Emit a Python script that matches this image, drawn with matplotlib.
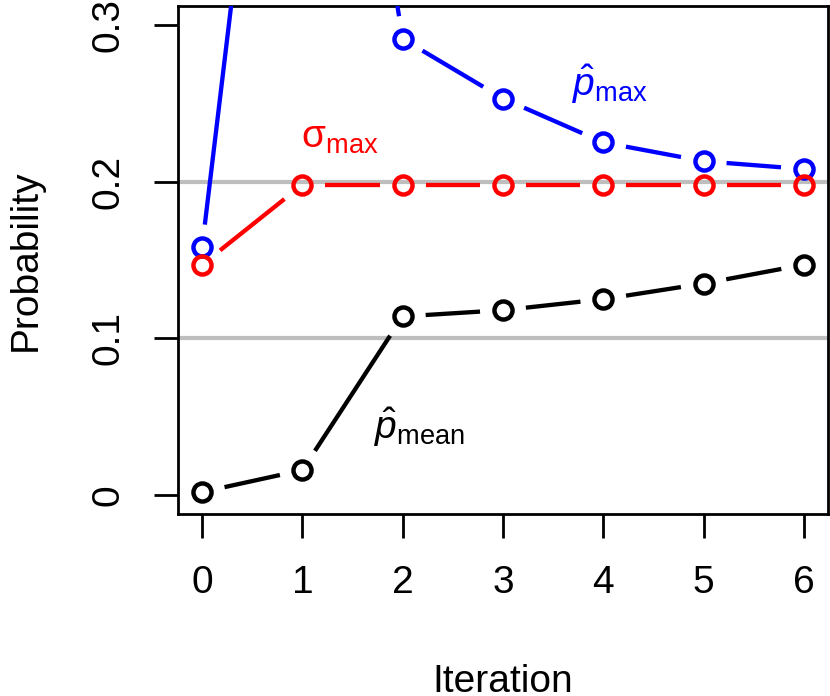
import numpy as np
import matplotlib
matplotlib.use("Agg")
import matplotlib.pyplot as plt

plt.rcParams['font.family'] = ['Liberation Sans', 'DejaVu Sans']
plt.rcParams['mathtext.fontset'] = 'custom'
plt.rcParams['mathtext.rm'] = 'Liberation Sans'
plt.rcParams['mathtext.it'] = 'Liberation Sans:italic'
plt.rcParams['mathtext.sf'] = 'Liberation Sans'

iterations = [0, 1, 2, 3, 4, 5, 6]
p_mean = [0.002, 0.016, 0.114, 0.118, 0.125, 0.135, 0.147]
sigma_max = [0.147, 0.198, 0.198, 0.198, 0.198, 0.198, 0.198]
p_max = [0.158, 0.69, 0.291, 0.253, 0.225, 0.213, 0.208]
ref_lines = [0.1, 0.2]
yticks = [0, 0.1, 0.2, 0.3]
ytick_labels = ["0", "0.1", "0.2", "0.3"]

fig = plt.figure(figsize=(8.30, 6.96), dpi=100)
ax = fig.add_axes([178/830, 1 - 514/696, (828 - 178)/830, (514 - 6)/696])
ax.set_xlim(-0.24, 6.24)
ax.set_ylim(-0.012, 0.312)

for r in ref_lines:
    ax.axhline(r, color='#BEBEBE', lw=3, zorder=1)

GAP = 23  # pixels


def draw_b(xs, ys, color, z):
    fig.canvas.draw()
    pts = ax.transData.transform(np.column_stack([xs, ys]))
    inv = ax.transData.inverted()
    for (x0, y0), (x1, y1) in zip(pts[:-1], pts[1:]):
        d = np.hypot(x1 - x0, y1 - y0)
        if d <= 2 * GAP:
            continue
        ux, uy = (x1 - x0) / d, (y1 - y0) / d
        a = inv.transform((x0 + ux * GAP, y0 + uy * GAP))
        b = inv.transform((x1 - ux * GAP, y1 - uy * GAP))
        ax.plot([a[0], b[0]], [a[1], b[1]], color=color, lw=3.1,
                solid_capstyle='butt', zorder=z)
    ax.plot(xs, ys, ls='none', marker='o', ms=13, mew=3.2,
            mfc='none', mec=color, zorder=z + 0.5, clip_on=False)


draw_b(iterations, p_mean, 'black', 3)
draw_b(iterations, p_max, 'blue', 4)
draw_b(iterations, sigma_max, 'red', 5)

ax.text(4.07, 0.262, r'$\hat{p}_{\mathrm{max}}$', color='blue', fontsize=28,
        ha='center', va='center')
ax.text(1.37, 0.228, r'$\mathrm{\sigma}_{\mathrm{max}}$', color='red', fontsize=28,
        ha='center', va='center')
ax.text(2.17, 0.043, r'$\hat{p}_{\mathrm{mean}}$', color='black', fontsize=28,
        ha='center', va='center')

ax.set_xticks(iterations)
ax.set_xticklabels([str(i) for i in iterations], fontsize=28)
ax.set_yticks(yticks)
ax.set_yticklabels(ytick_labels, fontsize=28, rotation=90, va='center')
ax.tick_params(axis='both', direction='out', length=17, width=2)
ax.tick_params(axis='x', pad=20)
ax.tick_params(axis='y', pad=20)
for s in ax.spines.values():
    s.set_linewidth(2)

ax.set_xlabel('Iteration', fontsize=28, labelpad=45)
ax.set_ylabel('Probability', fontsize=28, labelpad=34)

fig.savefig('out.png', dpi=100)
